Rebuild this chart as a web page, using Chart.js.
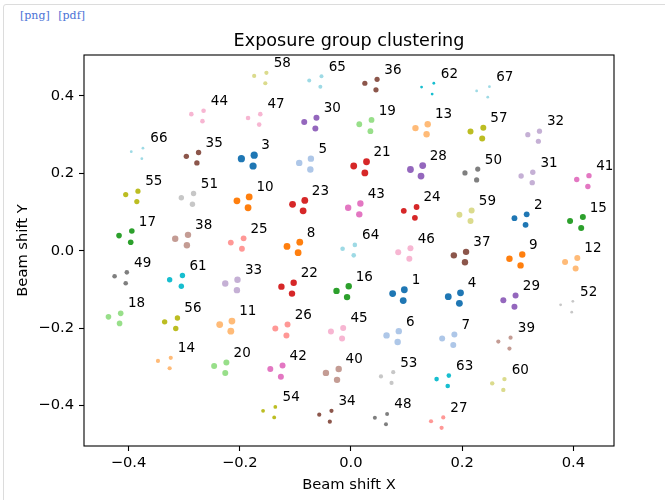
<!DOCTYPE html>
<html>
<head>
<meta charset="utf-8">
<script src="https://cdn.jsdelivr.net/npm/chart.js@4.4.1/dist/chart.umd.min.js"></script>
<style>
  html, body { margin: 0; padding: 0; background: #fff; }
  body { width: 665px; height: 500px; position: relative; overflow: hidden; }
  .cell { position: absolute; left: 3px; top: 4px; width: 720px; height: 600px; border: 1px solid #dcdcdc; border-radius: 3px; }
  .links { position: absolute; left: 20px; top: 9px; font-family: "DejaVu Serif", serif; font-size: 11px; }
  .links a { color: #4a72d6; text-decoration: none; margin-right: 5px; }
  #wrap { position: absolute; left: 0; top: 0; width: 665px; height: 500px; }
</style>
</head>
<body>
<div class="cell"></div>
<div class="links"><a href="#">[png]</a> <a href="#">[pdf]</a></div>
<div id="wrap"><canvas id="chartClusters" width="665" height="500"></canvas></div>
<script>
// cluster label -> three member points (beam shift x / y)
const clusterIds = [];
for (let i = 1; i <= 67; i++) clusterIds.push(i);

const clusterX = [
    [0.075, 0.096, 0.094], [0.294, 0.316, 0.314], [-0.197, -0.174, -0.176], [0.175, 0.197, 0.195],
    [-0.093, -0.072, -0.073], [0.064, 0.086, 0.084], [0.164, 0.186, 0.184], [-0.115, -0.092, -0.095],
    [0.285, 0.308, 0.305], [-0.205, -0.183, -0.185], [-0.236, -0.214, -0.216], [0.385, 0.407, 0.404],
    [0.116, 0.138, 0.136], [-0.347, -0.324, -0.326], [0.394, 0.417, 0.414], [-0.026, -0.004, -0.007],
    [-0.417, -0.394, -0.396], [-0.436, -0.414, -0.416], [0.015, 0.037, 0.035], [-0.246, -0.224, -0.226],
    [0.005, 0.028, 0.025], [-0.125, -0.103, -0.106], [-0.105, -0.083, -0.086], [0.095, 0.118, 0.115],
    [-0.216, -0.193, -0.196], [-0.136, -0.114, -0.116], [0.144, 0.166, 0.163], [0.107, 0.129, 0.126],
    [0.274, 0.296, 0.294], [-0.084, -0.062, -0.064], [0.306, 0.327, 0.326], [0.318, 0.339, 0.337],
    [-0.226, -0.204, -0.205], [-0.057, -0.035, -0.038], [-0.296, -0.274, -0.277], [0.025, 0.047, 0.045],
    [0.185, 0.207, 0.205], [-0.316, -0.293, -0.295], [0.265, 0.287, 0.285], [-0.045, -0.022, -0.025],
    [0.406, 0.428, 0.426], [-0.145, -0.123, -0.126], [-0.005, 0.017, 0.015], [-0.287, -0.265, -0.267],
    [-0.036, -0.014, -0.016], [0.085, 0.107, 0.105], [-0.185, -0.163, -0.165], [0.043, 0.065, 0.063],
    [-0.425, -0.403, -0.405], [0.205, 0.228, 0.226], [-0.305, -0.283, -0.285], [0.377, 0.399, 0.397],
    [0.054, 0.076, 0.073], [-0.158, -0.136, -0.138], [-0.405, -0.383, -0.385], [-0.335, -0.312, -0.315],
    [0.215, 0.238, 0.236], [-0.174, -0.152, -0.154], [0.195, 0.217, 0.215], [0.254, 0.276, 0.274],
    [-0.326, -0.303, -0.305], [0.127, 0.149, 0.146], [0.154, 0.176, 0.174], [-0.015, 0.007, 0.005],
    [-0.075, -0.053, -0.055], [-0.395, -0.374, -0.376], [0.226, 0.249, 0.246]
];

const clusterY = [
    [-0.111, -0.101, -0.129], [0.084, 0.094, 0.067], [0.238, 0.247, 0.219], [-0.119, -0.109, -0.136],
    [0.227, 0.238, 0.210], [-0.219, -0.208, -0.236], [-0.227, -0.217, -0.244], [0.011, 0.022, -0.005],
    [-0.021, -0.010, -0.038], [0.129, 0.139, 0.111], [-0.191, -0.182, -0.208], [-0.029, -0.019, -0.046],
    [0.317, 0.327, 0.301], [-0.285, -0.277, -0.304], [0.077, 0.087, 0.059], [-0.104, -0.092, -0.120],
    [0.039, 0.051, 0.022], [-0.171, -0.162, -0.188], [0.327, 0.338, 0.309], [-0.298, -0.289, -0.316],
    [0.219, 0.230, 0.201], [-0.093, -0.083, -0.111], [0.120, 0.130, 0.103], [0.103, 0.113, 0.085],
    [0.021, 0.032, 0.005], [-0.201, -0.191, -0.219], [-0.441, -0.431, -0.458], [0.210, 0.220, 0.193],
    [-0.128, -0.116, -0.145], [0.333, 0.344, 0.316], [0.193, 0.203, 0.176], [0.300, 0.309, 0.283],
    [-0.085, -0.075, -0.102], [-0.424, -0.414, -0.442], [0.244, 0.254, 0.227], [0.433, 0.443, 0.416],
    [-0.012, -0.003, -0.030], [0.031, 0.041, 0.014], [-0.235, -0.225, -0.253], [-0.316, -0.306, -0.334],
    [0.184, 0.194, 0.166], [-0.306, -0.297, -0.326], [0.111, 0.122, 0.094], [0.353, 0.362, 0.335],
    [-0.209, -0.200, -0.227], [-0.004, 0.006, -0.021], [0.343, 0.353, 0.326], [-0.432, -0.422, -0.449],
    [-0.066, -0.056, -0.084], [0.201, 0.211, 0.183], [0.137, 0.148, 0.120], [-0.140, -0.131, -0.159],
    [-0.325, -0.314, -0.342], [-0.414, -0.404, -0.431], [0.145, 0.154, 0.127], [-0.184, -0.174, -0.201],
    [0.308, 0.318, 0.290], [0.452, 0.460, 0.433], [0.093, 0.104, 0.077], [-0.343, -0.332, -0.360],
    [-0.075, -0.064, -0.092], [0.423, 0.433, 0.405], [-0.332, -0.323, -0.350], [0.005, 0.015, -0.012],
    [0.440, 0.451, 0.424], [0.256, 0.265, 0.238], [0.413, 0.424, 0.397]
];

const xTicks = [-0.4, -0.2, 0.0, 0.2, 0.4];
const yTicks = [-0.4, -0.2, 0.0, 0.2, 0.4];

// styles
const dotRadius = [
    3.4, 2.9, 3.6, 3.4, 3.2, 3.2, 3, 3.4, 3.2, 3.4,
    3.4, 3, 3.2, 2.1, 3, 3.2, 2.8, 2.8, 2.9, 3,
    3.4, 3.2, 3.4, 2.9, 2.9, 3, 2.1, 3.4, 3, 3,
    2.7, 2.6, 3.2, 2.1, 2.7, 2.6, 3.2, 3.2, 2.1, 3.2,
    2.7, 3, 3.2, 2.3, 3, 3, 2.3, 2, 2.3, 2.6,
    2.7, 1.4, 2.1, 1.9, 2.6, 2.7, 3, 2.1, 3, 2.2,
    2.7, 1.4, 2.3, 2.3, 2, 1.4, 1.4
];
const tab20 = ['#1f77b4', '#aec7e8', '#ff7f0e', '#ffbb78', '#2ca02c', '#98df8a', '#d62728', '#ff9896',
    '#9467bd', '#c5b0d5', '#8c564b', '#c49c94', '#e377c2', '#f7b6d2', '#7f7f7f', '#c7c7c7',
    '#bcbd22', '#dbdb8d', '#17becf', '#9edae5'];
const font = '"DejaVu Sans", "Liberation Sans", sans-serif';

function colorFor(id) {
    return tab20[Math.min(19, Math.floor((id - 1) / 66 * 20))];
}
function mean(a) {
    return a.reduce((s, v) => s + v, 0) / a.length;
}
function fmt(v) {
    return v.toFixed(1).replace('-', '\u2212');
}

const datasets = clusterIds.map((id, i) => ({
    label: String(id),
    data: clusterX[i].map((x, k) => ({ x: x, y: clusterY[i][k] })),
    backgroundColor: colorFor(id),
    pointRadius: dotRadius[i],
    pointBorderWidth: 0,
    pointHoverRadius: dotRadius[i]
}));

const clusterLabels = {
    id: "clusterLabels",
    afterDatasetsDraw(chart) {
        const { ctx, scales: { x, y } } = chart;
        ctx.save();
        ctx.font = '13.5px ' + font;
        ctx.fillStyle = "#000";
        ctx.textAlign = "left";
        ctx.textBaseline = "alphabetic";
        clusterIds.forEach((id, i) => {
            const px = x.getPixelForValue(mean(clusterX[i]) + 0.021);
            const py = y.getPixelForValue(mean(clusterY[i]) + 0.027);
            ctx.fillText(String(id), px, py);
        });
        ctx.restore();
    }
};

// frame round the axes and the title centred over them
const frame = {
    id: "frame",
    afterDraw(chart) {
        const { ctx, chartArea: a } = chart;
        ctx.save();
        ctx.strokeStyle = "#000";
        ctx.lineWidth = 1.1;
        ctx.strokeRect(a.left, a.top, a.right - a.left, a.bottom - a.top);
        ctx.font = '17.6px ' + font;
        ctx.fillStyle = "#000";
        ctx.textAlign = "center";
        ctx.textBaseline = "alphabetic";
        ctx.fillText("Exposure group clustering", (a.left + a.right) / 2, 45.5);
        ctx.restore();
    }
};

function axis(min, max, ticks, title, isX) {
    return {
        type: "linear",
        min: min,
        max: max,
        afterBuildTicks: (s) => { s.ticks = ticks.map(v => ({ value: v })); },
        afterFit: (s) => { if (isX) s.height = 54; else s.width = 84; },
        ticks: {
            color: "#000",
            font: { family: font, size: 14.7 },
            padding: isX ? 3 : 5,
            callback: (v) => fmt(v)
        },
        grid: {
            drawOnChartArea: false,
            drawTicks: true,
            tickLength: 5,
            tickColor: "#000",
            tickWidth: 1.1
        },
        border: { display: false },
        title: {
            display: true,
            text: title,
            color: "#000",
            font: { family: font, size: 14.7 },
            padding: isX ? { top: 0, bottom: 6 } : { top: 14, bottom: 0 }
        }
    };
}

new Chart(document.getElementById("chartClusters"), {
    type: "scatter",
    data: { datasets: datasets },
    options: {
        responsive: false,
        animation: false,
        layout: { padding: { left: 0, right: 51, top: 55, bottom: 0 } },
        plugins: {
            legend: { display: false },
            tooltip: { enabled: false },
            title: { display: false }
        },
        scales: {
            x: axis(-0.48, 0.473, xTicks, "Beam shift X", true),
            y: axis(-0.505, 0.506, yTicks, "Beam shift Y", false)
        }
    },
    plugins: [clusterLabels, frame]
});
</script>
</body>
</html>
